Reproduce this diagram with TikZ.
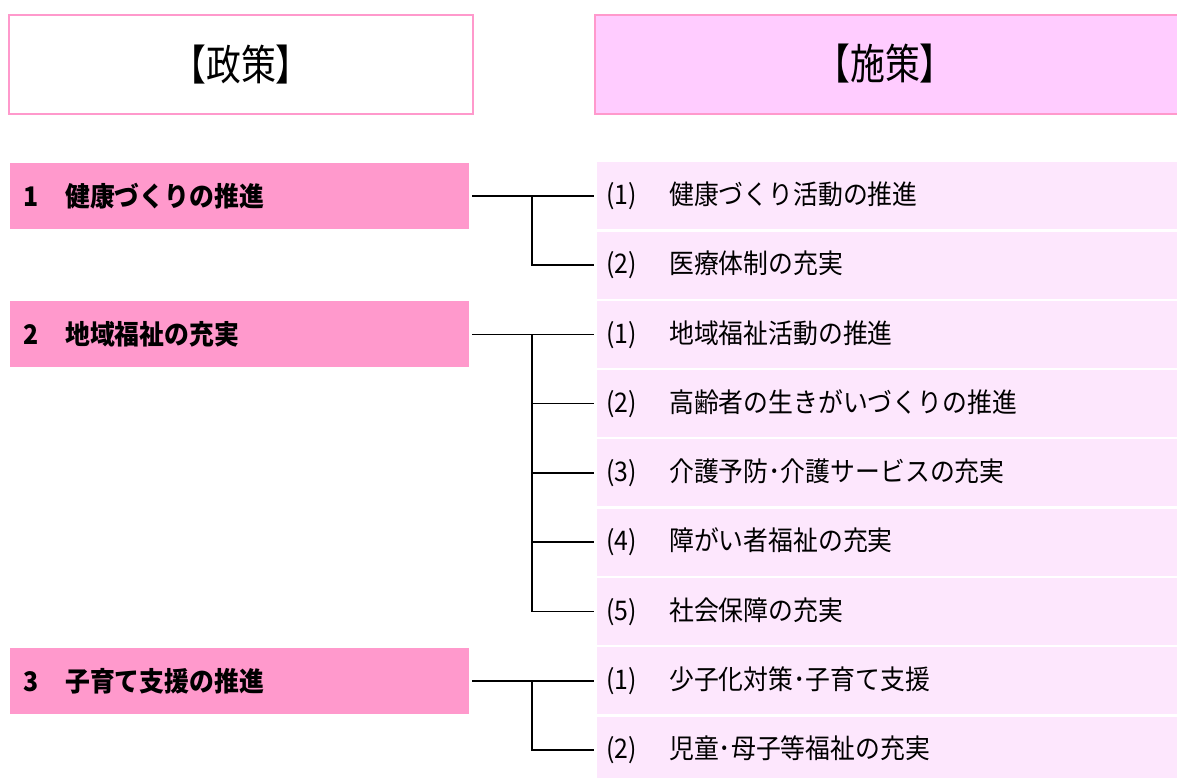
\documentclass[tikz,border=0pt]{standalone}
\usepackage{fontspec}
\setmainfont{Noto Sans CJK JP}[FakeStretch=0.92]
\newfontfamily\headfont{Noto Sans CJK JP}[FakeStretch=0.83]
\definecolor{pinkline}{HTML}{FF99CC}
\definecolor{pinkhead}{HTML}{FFCCFF}
\definecolor{pinkpolicy}{HTML}{FF99CC}
\definecolor{pinkmeasure}{HTML}{FDE7FD}
\tikzset{
  headbox/.style={draw=pinkline, line width=2pt, minimum height=99pt, anchor=north west, inner sep=0pt, font=\headfont\fontsize{42}{46}\selectfont},
  headtext/.style={inner sep=0pt, font=\headfont\fontsize{42}{46}\selectfont},
  policybox/.style={fill=pinkpolicy, minimum width=459pt, minimum height=66pt, anchor=north west, text width=433pt, inner xsep=13pt, inner ysep=0pt, align=left, font=\fontsize{27}{30}\selectfont\bfseries},
  measurebox/.style={fill=pinkmeasure, minimum width=590pt, minimum height=67pt, anchor=north west, text width=572pt, inner xsep=9pt, inner ysep=0pt, align=left, font=\fontsize{27}{30}\selectfont},
  conn/.style={draw=black, line width=1.6pt},
}
\newcommand{\pnum}[1]{\makebox[42pt][l]{#1}}
\newcommand{\mnum}[1]{\makebox[63pt][l]{(#1)}}
\begin{document}
\begin{tikzpicture}[x=1pt,y=-1pt]
\useasboundingbox (0,0) rectangle (1177,777);
\clip (0,0) rectangle (1177,777);
% headers
\node[headbox, minimum width=464pt] (hL) at (8,14) {【政策】};
\node[headbox, fill=pinkhead, minimum width=590pt] (hR) at (594,14) {};
\node[headtext] (hRt) at (885,63.5) {【施策】};
% measure boxes
\def\rt#1{\fpeval{162+69.3*#1}}
\node[measurebox] (m1) at (597,{\rt{0}}) {\mnum{1}健康づくり活動の推進};
\node[measurebox] (m2) at (597,{\rt{1}}) {\mnum{2}医療体制の充実};
\node[measurebox] (m3) at (597,{\rt{2}}) {\mnum{1}地域福祉活動の推進};
\node[measurebox] (m4) at (597,{\rt{3}}) {\mnum{2}高齢者の生きがいづくりの推進};
\node[measurebox] (m5) at (597,{\rt{4}}) {\mnum{3}介護予防･介護サービスの充実};
\node[measurebox] (m6) at (597,{\rt{5}}) {\mnum{4}障がい者福祉の充実};
\node[measurebox] (m7) at (597,{\rt{6}}) {\mnum{5}社会保障の充実};
\node[measurebox] (m8) at (597,{\rt{7}}) {\mnum{1}少子化対策･子育て支援};
\node[measurebox] (m9) at (597,{\rt{8}}) {\mnum{2}児童･母子等福祉の充実};
% policy boxes
\node[policybox] (p1) at (10,{\rt{0}+0.5}) {\pnum{1}健康づくりの推進};
\node[policybox] (p2) at (10,{\rt{2}+0.5}) {\pnum{2}地域福祉の充実};
\node[policybox] (p3) at (10,{\rt{7}+0.5}) {\pnum{3}子育て支援の推進};
% connectors
\coordinate (jx) at (532,0);
\draw[conn, shorten <=3pt, shorten >=3pt] (p1.east) -- (m1.west);
\draw[conn, shorten >=3pt] (p1.east -| jx) |- (m2.west);
\draw[conn, shorten <=3pt, shorten >=3pt] (p2.east) -- (m3.west);
\draw[conn, shorten >=3pt] (p2.east -| jx) |- (m4.west);
\draw[conn, shorten >=3pt] (p2.east -| jx) |- (m5.west);
\draw[conn, shorten >=3pt] (p2.east -| jx) |- (m6.west);
\draw[conn, shorten >=3pt] (p2.east -| jx) |- (m7.west);
\draw[conn, shorten <=3pt, shorten >=3pt] (p3.east) -- (m8.west);
\draw[conn, shorten >=3pt] (p3.east -| jx) |- (m9.west);
\end{tikzpicture}
\end{document}
